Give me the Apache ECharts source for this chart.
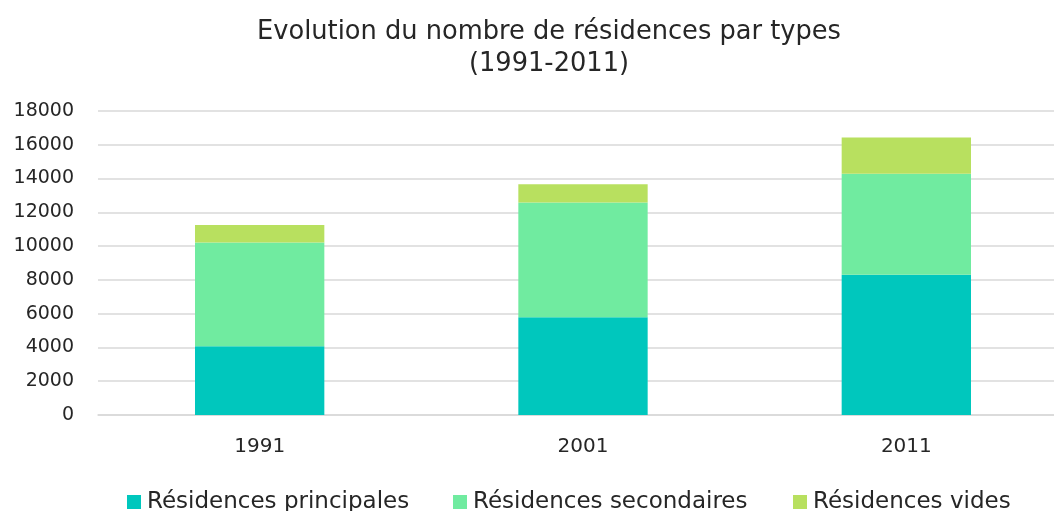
<!DOCTYPE html>
<html>
<head>
<meta charset="utf-8">
<script src="https://cdn.jsdelivr.net/npm/echarts@6/dist/echarts.min.js"></script>
<style>
html,body{margin:0;padding:0;background:#fff;}
#chart{width:1054px;height:511px;}
</style>
</head>
<body>
<div id="chart"></div>
<script>
const categories = ['1991', '2001', '2011'];
const principales = [4070, 5785, 8305];
const secondaires = [6140, 6790, 5980];
const vides = [1045, 1085, 2150];
const seriesNames = ['Résidences principales', 'Résidences secondaires', 'Résidences vides'];
const colors = ['#00C7BD', '#70EBA0', '#B8E05F'];
const legendLefts = [127, 453, 793];

const FONT = '"DejaVu Sans", sans-serif';
const chart = echarts.init(document.getElementById('chart'));
chart.setOption({
  animation: false,
  textStyle: { fontFamily: FONT },
  title: {
    text: 'Evolution du nombre de résidences par types\n(1991-2011)',
    left: 544, top: 11, textAlign: 'center',
    textStyle: { fontFamily: FONT, fontSize: 25.7, fontWeight: 'normal', color: '#262626', lineHeight: 32 }
  },
  legend: seriesNames.map((name, i) => ({
    data: [name],
    left: legendLefts[i], top: 490, padding: 0,
    itemWidth: 14, itemHeight: 14,
    icon: 'rect',
    textStyle: { fontFamily: FONT, fontSize: 23, lineHeight: 24, color: '#262626', padding: [0, 0, 0, 1] }
  })),
  grid: { left: 98, width: 970, top: 111, bottom: 96, containLabel: false, outerBoundsMode: 'none' },
  xAxis: {
    type: 'category', data: categories,
    axisLine: { show: true, lineStyle: { color: '#d9d9d9', width: 1.5 } },
    axisTick: { show: false },
    axisLabel: { fontFamily: FONT, fontSize: 20, color: '#262626', margin: 22 }
  },
  yAxis: {
    type: 'value', min: 0, max: 18000, interval: 2000,
    axisLine: { show: false }, axisTick: { show: false },
    splitLine: { lineStyle: { color: '#d9d9d9', width: 1.5 } },
    axisLabel: { fontFamily: FONT, fontSize: 19, color: '#262626', margin: 24, formatter: v => String(v) }
  },
  series: [
    { name: seriesNames[0], type: 'bar', stack: 'a', data: principales, barWidth: '40%', itemStyle: { color: colors[0] } },
    { name: seriesNames[1], type: 'bar', stack: 'a', data: secondaires, barWidth: '40%', itemStyle: { color: colors[1] } },
    { name: seriesNames[2], type: 'bar', stack: 'a', data: vides, barWidth: '40%', itemStyle: { color: colors[2] } }
  ]
});
</script>
</body>
</html>
